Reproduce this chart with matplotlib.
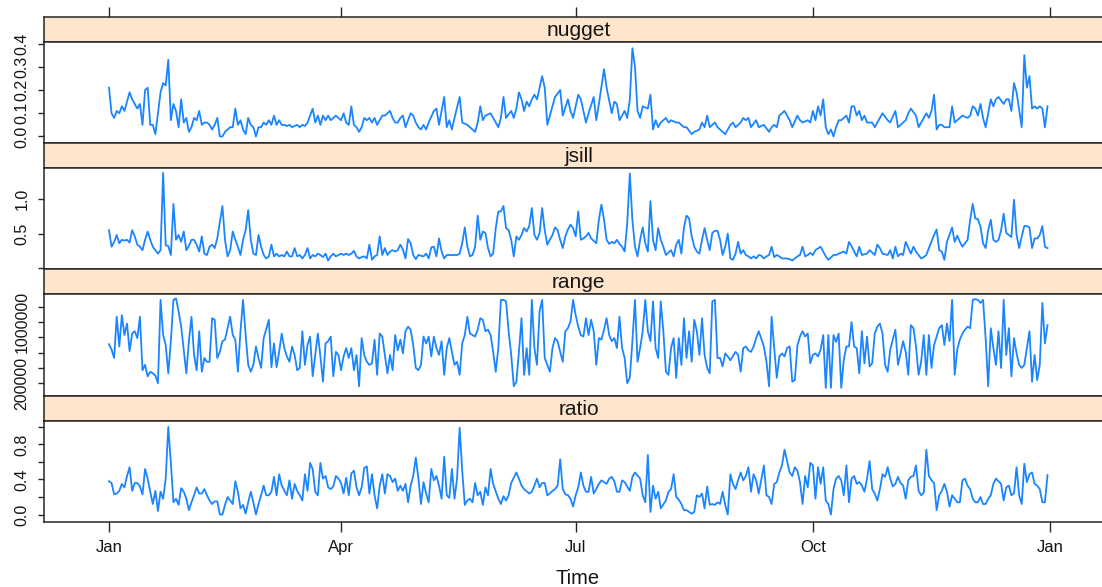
#!/usr/bin/env python3
"""
Variogram parameters by day - lattice-style stacked panels
"""

import matplotlib

matplotlib.use("Agg")
import matplotlib.dates as mdates
import matplotlib.pyplot as plt
import numpy as np
import pandas as pd

plt.rcParams["font.family"] = ["Liberation Sans", "DejaVu Sans"]

start = pd.Timestamp("2009-01-01")

# --- nugget ---------------------------------------------------------------
nugget_day = [
    0, 1, 2, 3, 4, 5, 6, 7, 8, 9, 10, 11, 12, 13, 14, 15, 16, 17, 18, 20,
    21, 22, 23, 24, 25, 26, 27, 28, 29, 30, 31, 32, 33, 34, 35, 36, 37, 38, 39, 40,
    41, 42, 43, 44, 45, 47, 48, 49, 50, 51, 52, 53, 54, 55, 56, 57, 58, 59, 60, 61,
    62, 63, 64, 65, 66, 67, 68, 69, 70, 71, 72, 73, 74, 75, 76, 77, 79, 80, 81, 82,
    83, 84, 85, 86, 88, 89, 90, 91, 92, 93, 94, 95, 96, 97, 98, 99, 100, 101, 102, 103,
    104, 105, 106, 107, 109, 110, 111, 112, 113, 114, 115, 116, 117, 118, 119, 120,
    121, 122, 123, 124, 126, 127, 128, 130, 131, 132, 133, 134, 136, 137, 139, 140,
    142, 143, 144, 145, 146, 148, 149, 151, 152, 153, 154, 156, 157, 158, 159, 160,
    161, 162, 163, 164, 165, 166, 168, 169, 170, 172, 173, 175, 176, 178, 179, 180,
    181, 182, 183, 185, 186, 188, 189, 190, 192, 193, 195, 196, 197, 198, 200, 201,
    202, 203, 204, 205, 206, 207, 209, 210, 211, 212, 213, 214, 216, 217, 218, 220,
    221, 223, 224, 226, 227, 229, 230, 231, 232, 233, 234, 235, 236, 238, 239, 241,
    242, 243, 245, 246, 247, 248, 249, 251, 252,
    254, 256, 257, 258, 259, 260, 262, 263, 264, 265, 267, 268, 269, 271, 272, 273,
    274, 275, 276, 277, 278, 279, 280, 281, 282, 283, 284, 286, 287, 288, 289, 290,
    291, 292, 293, 294, 296, 297, 298, 300, 302, 303, 305, 306, 307, 309, 310, 311,
    313, 314, 315, 317, 318, 319, 320, 321, 322, 323, 324, 326, 327, 328, 330, 331,
    333, 334, 335, 336, 337, 338, 339, 340, 342, 343, 344, 345, 347, 348, 349, 350,
    351, 352, 354, 355, 356, 357, 358, 359, 360, 361, 362, 363, 364,
]
nugget_val = [
    .21, .10, .08, .11, .10, .13, .11, .15, .19, .16, .14, .12, .14, .05, .20, .21, .05, .05, .01, .19,
    .23, .22, .33, .07, .14, .11, .04, .16, .06, .08, .02, .04, .08, .07, .11, .05, .06, .06, .05, .03,
    .05, .08, .00, .00, .02, .04, .04, .12, .05, .07, .03, .01, .08, .05, .04, .00, .04, .04, .06, .05,
    .07, .05, .09, .05, .07, .05, .05, .045, .05, .04, .045, .05, .04, .05, .045, .06, .12, .06, .09, .05,
    .09, .07, .09, .07, .09, .08, .07, .10, .06, .05, .13, .05, .04, .02, .04, .08, .07, .08, .06, .08,
    .05, .07, .09, .09, .11, .08, .06, .06, .08, .09, .04, .07, .10, .09, .06, .04,
    .03, .05, .03, .06, .11, .12, .05, .17, .04, .07, .03, .08, .17, .06, .05, .04,
    .02, .06, .13, .07, .09, .10, .08, .04, .08, .17, .08, .11, .08, .12, .19, .16,
    .11, .15, .13, .16, .18, .16, .26, .21, .05, .13, .17, .20, .09, .16, .11, .08,
    .13, .18, .16, .06, .10, .17, .07, .14, .29, .21, .10, .15, .14, .07, .11, .08,
    .16, .38, .30, .11, .08, .13, .12, .18, .03, .07, .04, .06, .08, .06, .07, .06,
    .06, .04, .04, .01, .02, .03, .06, .04, .09, .04, .05, .06, .04, .02, .01, .05,
    .06, .04, .06, .08, .07, .08, .04, .07, .04,
    .05, .02, .04, .05, .04, .09, .11, .09, .07, .04, .09, .07, .06, .07, .06, .11,
    .07, .13, .09, .16, .04, .01, .03, .00, .04, .07, .07, .09, .06, .13, .13, .09,
    .11, .07, .09, .06, .06, .04, .06, .10, .07, .06, .11, .04, .05, .07, .10, .12,
    .09, .04, .06, .10, .08, .11, .18, .03, .05, .05, .04, .04, .13, .06, .08, .09,
    .08, .09, .13, .12, .09, .14, .08, .04, .16, .13, .16, .17, .14, .16, .16, .11,
    .23, .19, .04, .35, .21, .26, .12, .13, .12, .13, .12, .04, .13,
]

# --- jsill ----------------------------------------------------------------
jsill_day = np.r_[0:121, 122:132, 133, 135:188, 189:217, 218:253,
                  253:262, 263:266, 267:275, 276:280, 281:284, 285:293,
                  294:296, 297:301, 302:310, 311:314, 315:319, 320:326,
                  327:332, 333:365]
jsill_val = [
    .55, .31, .38, .48, .36, .41, .40, .41, .37, .55, .46, .34, .31, .26, .41, .53, .41, .31, .26, .21,
    .26, 1.38, .33, .32, .19, .93, .41, .48, .38, .53, .26, .32, .41, .41, .34, .24, .46, .21, .19, .31,
    .34, .29, .43, .67, .90, .41, .17, .26, .53, .41, .31, .19, .41, .55, .84, .41, .21, .19, .48, .31,
    .19, .14, .17, .34, .17, .21, .17, .19, .17, .24, .17, .17, .29, .17, .19, .14, .19, .29, .14, .19,
    .17, .21, .19, .16, .21, .11, .17, .21, .17, .19, .21, .19, .21, .19, .21, .25, .17, .14, .16, .17,
    .14, .34, .12, .17, .19, .46, .19, .29, .19, .24, .26, .24, .26, .34, .27, .14, .42, .36, .19, .13,
    .19,
    .17, .21, .14, .30, .31, .17, .43, .24, .14, .19, .19, .19, .21, .36, .59, .31, .17, .19, .31, .76,
    .41, .53, .51, .29, .17, .21, .58, .82, .82, .90, .58, .55, .41, .17, .46, .41, .48, .58, .53, .61,
    .87, .48, .41, .51, .87, .55, .34, .41, .48, .59, .55, .41, .29, .46, .56, .63, .58, .46, .82, .41,
    .43, .46, .51, .43, .36, .70, .92, .70, .41, .35, .38, .36, .41, .35, .31, .24, .65, 1.37, .70, .31,
    .17, .41, .59, .36, .24, .97, .41, .26, .58, .41, .31, .19, .26, .17, .34, .41, .21, .59, .76, .72,
    .46, .31, .24, .21, .41, .58, .41, .26, .51, .54, .54, .41, .19, .31, .50, .14, .12, .21, .38, .21,
    .26, .19, .17, .14, .17, .14, .19,
    .18, .14, .17, .19, .31, .16, .19, .17, .14, .14, .13, .11, .17, .19, .31, .17, .19, .22, .19, .26,
    .31, .24, .17, .12, .19, .19, .21, .24, .21, .38, .32, .24, .17, .31, .19, .21, .26, .19, .34, .29,
    .21, .19, .26, .14, .31, .17, .21, .19, .38, .21, .31, .24, .14, .16, .19, .29, .48, .56, .26, .24,
    .12, .38, .59, .38, .47, .38, .31, .41, .70, .93, .72, .71, .60, .36, .29, .55, .70, .41, .38, .41,
    .55, .79, .51, .48, .45, .99, .48, .29, .46, .61, .61, .59, .29, .43, .43, .48, .61, .31, .29,
]

# --- range ----------------------------------------------------------------
range_day = np.r_[0:29, 30:46, 47:61, 62:107, 108:242, 243:253, 254:356, 357:365]
range_val_m = [
    .71, .64, .53, 1.07, .68, 1.09, .83, .98, .62, .85, .88, .79, 1.07, .37, .44, .29, .35, .33, .30, .20,
    1.29, .83, .70, .33, .75, 1.29, 1.31, 1.14, .94,
    .33, .75, 1.07, .57, .37, .88, .35, .53, .48, .48, 1.05, 1.03, .53, .61, .75, .77,
    1.07, .83, .77, .35, .88, 1.29, .83, .44, .35, .44, .68, .53, .40, .79,
    1.03, .41, .72, .41, .61, .85, .66, .55, .48, .68, .57, .37, .40, .88, .44, .70, .81, .29, .57, .85,
    .55, .22, .72, .75, .81, .29, .61, .57, .37, .55, .66, .53, .66, .37, .57, .16, .79, .57, .48, .44,
    .46, .77, .31, .85, .81,
    .33, .57, .37, .83, .63, .77, .59, .88, .94, .90, .70, .40, .37,
    .44, .81, .72, .81, .55, .81, .66, .57, .75, .31, .66, .79, .61, .44, .48, .31, .72, .83, 1.07, .85,
    .83, .81, .90, 1.05, 1.03, .88, .90, .83, .61, .35, .66, 1.29, 1.29, 1.27, .88, .57, .16, .22, .61, 1.05,
    .31, .66, .31, 1.29, .66, .44, 1.14, 1.29, .53, .44, .35, .66, .79, .75, .61, .48, .88, .92, 1.01, 1.29,
    1.09, .94, .83, .81, 1.05, .83, 1.03, .88, .44, .79, .77, .90, 1.05, .83, .75, .79, .66, 1.07, .66, .53,
    .20, .27, .75, 1.29, .48, .66, .88, 1.29, .88, .75, 1.27, .66, .53, 1.27, .88, .35, .31, .66, .79, .27,
    .79, .44, 1.05, .53, .88, .48, 1.03, .88, .57, 1.05, .57, .40, .33, 1.27, 1.29, .53, .53, .42, .59, .55,
    .50,
    .61, .57, .35, .66, .68, .63, .61, .68, .79, .88,
    .68, .48, .16, 1.07, .66, .27, .55, .59, .55, .66, .68, .22, .24, .69, .81, .88, .81, .85, .46, .57,
    .59, .55, .64, .83, .14, .83, .14, .83, .74, .85, .14, .51, .68, .68, 1.00, .68, .66, .33, .88, .46,
    .81, .42, .46, .85, .94, .98, .85, .44, .35, .64, .77, .90, .44, .59, .75, .61, .31, .96, .92, .68,
    .31, .48, .83, .31, .83, .40, .70, .81, .92, .96, .70, .98, .75, 1.29, .31, .64, .77, .85, .90, .94,
    .92, 1.29, 1.30, 1.29, 1.25, 1.29, .79, .16, .92, .66, .44, .88, .40, 1.29, .57, .92, .29, .79, .59, .44,
    .40, .44,
    .88, .22, .57, .24, .44, 1.25, .72, .96,
]
range_val = [v * 1e6 for v in range_val_m]

# --- ratio ----------------------------------------------------------------
ratio_day = np.r_[0:47, 48:68, 69:150, 151:157, 158:162, 163:192, 193:201,
                  202:205, 206:215, 216:225, 226:253, 254:345, 346:365]
ratio_val = [
    .38, .36, .23, .24, .27, .35, .31, .44, .54, .27, .36, .36, .32, .23, .52, .41, .26, .12, .27, .04,
    .26, .18, .41, 1.0, .59, .14, .18, .11, .30, .26, .18, .05, .14, .22, .31, .24, .24, .29, .22, .16,
    .12, .15, .15, .00, .00, .11, .20,
    .12, .38, .26, .07, .11, .01, .14, .26, .14, .00, .12, .22, .33, .22, .22, .26, .43, .22, .46, .33,
    .22, .39, .18, .35, .27, .22, .16, .46, .27, .59, .52, .26, .22, .59, .41, .44, .31, .29, .32, .44,
    .41, .36, .24, .42, .22, .47, .50, .31, .22, .31, .53, .55, .24, .46, .22, .07, .33, .46, .24, .46,
    .44, .37, .41, .27, .33, .27, .35, .14, .33, .44, .65,
    .41, .12, .37, .24, .14, .52, .39, .44, .33, .18, .66, .22, .19, .52, .18, .41, .99, .50, .11, .16,
    .18, .14, .36, .22, .26, .11, .31, .22, .52, .35,
    .18, .12, .21, .16, .22, .36,
    .48, .41, .33, .29,
    .24, .26, .33, .41, .31, .36, .36, .22, .24, .27, .29, .33, .63, .29, .23, .22, .18, .09, .22, .31,
    .48, .33, .26, .26, .43, .24, .29, .35, .39,
    .35, .41, .43, .38, .26, .26, .39, .37,
    .27, .43, .48,
    .41, .22, .14, .68, .03, .33, .18, .26, .07,
    .16, .26, .29, .46, .20, .17, .12, .05, .05,
    .01, .03, .22, .20, .24, .07, .32, .11, .12, .11, .14, .12, .26, .11, .00, .46, .35, .29, .39, .48,
    .39, .44, .54, .26, .46, .39, .24,
    .56, .22, .20, .12, .35, .37, .48, .56, .74, .61, .48, .44, .54, .50, .37, .12, .44, .31, .59, .56,
    .18, .54, .35, .54, .16, .12, .00, .29, .41, .44, .39, .22, .56, .14, .41, .44, .35, .37, .33, .26,
    .41, .61, .29, .24, .16, .29, .46, .43, .54, .41, .32, .35, .43, .36, .33, .18, .39, .43, .44, .56,
    .27, .22, .25, .74, .44, .39, .36, .05, .22, .27, .35, .26, .09, .22, .18, .14, .14, .39, .41, .33,
    .29, .18, .14, .14, .20, .12, .12, .18, .22, .35, .41,
    .35, .16, .31, .33, .22, .24, .54, .22, .12, .58, .37, .46, .48, .35, .33, .29, .14, .14, .45,
]

panel_names = ["nugget", "jsill", "range", "ratio"]
panel_days = [nugget_day, jsill_day, range_day, ratio_day]
panel_vals = [nugget_val, jsill_val, range_val, ratio_val]
panel_ylims = [(-0.028, 0.408), (-0.017, 1.45), (38000, 1363000), (-0.084, 1.072)]
panel_yticks = [
    [0.0, 0.1, 0.2, 0.3, 0.4],
    [0.0, 0.5, 1.0],
    [200000, 400000, 600000, 800000, 1000000, 1200000],
    [0.0, 0.2, 0.4, 0.6, 0.8, 1.0],
]
panel_ylabels = [
    ["0.0", "0.1", "0.2", "0.3", "0.4"],
    ["", "0.5", "1.0"],
    ["200000", "", "", "", "1000000", ""],
    ["0.0", "", "0.4", "", "0.8", ""],
]

W, H = 1102, 587
fig = plt.figure(figsize=(W / 100, H / 100), dpi=100)


def px_axes(x0, top, w, h):
    return fig.add_axes([x0 / W, 1 - (top + h) / H, w / W, h / H])


x_left, x_width = 44, 1069
strip_h, panel_h = 25, 101.3
top0, pitch = 16.7, 126.3
xlim = (
    mdates.date2num(start - pd.Timedelta(days=25.2)),
    mdates.date2num(start + pd.Timedelta(days=389.4)),
)
line_color = "#1a85ff"
edge_color = "#262626"
text_color = "#151515"

for i, name in enumerate(panel_names):
    top = top0 + i * pitch

    # strip
    sax = px_axes(x_left, top, x_width, strip_h)
    sax.set_facecolor("#ffe5cc")
    sax.set_xlim(xlim)
    sax.set_ylim(0, 1)
    sax.set_yticks([])
    for sp in sax.spines.values():
        sp.set_color(edge_color)
        sp.set_linewidth(1.1)
    sax.text(0.5, 0.46, name, transform=sax.transAxes, ha="center", va="center",
             fontsize=15, color=text_color)
    if i == 0:
        sax.xaxis.set_ticks_position("top")
        sax.xaxis.set_major_locator(mdates.MonthLocator(bymonth=[1, 4, 7, 10]))
        sax.tick_params(axis="x", direction="out", length=7.2, width=1.0,
                        color=edge_color, labeltop=False, labelbottom=False)
    else:
        sax.set_xticks([])

    # panel
    ax = px_axes(x_left, top + strip_h, x_width, panel_h)
    dates = start + pd.to_timedelta(np.asarray(panel_days[i]), unit="D")
    ax.plot(dates, panel_vals[i], color=line_color, lw=1.3)
    ax.set_xlim(xlim)
    ax.set_ylim(panel_ylims[i])
    for sp in ax.spines.values():
        sp.set_color(edge_color)
        sp.set_linewidth(1.1)
    ax.set_yticks(panel_yticks[i], panel_ylabels[i])
    ax.tick_params(axis="y", direction="out", length=4, width=1.0, color=edge_color,
                   labelsize=11.5, labelrotation=90, pad=6.5, labelcolor=text_color)
    for lab in ax.get_yticklabels():
        lab.set_va("center")

    if i == len(panel_names) - 1:
        ax.xaxis.set_major_locator(mdates.MonthLocator(bymonth=[1, 4, 7, 10]))
        ax.xaxis.set_major_formatter(mdates.DateFormatter("%b"))
        ax.tick_params(axis="x", direction="out", length=7.2, width=1.0, color=edge_color,
                       labelsize=12, pad=6, labelcolor=text_color)
    else:
        ax.set_xticks([])

fig.text(578 / W, 1 - 578 / H, "Time", ha="center", va="center", fontsize=14.5, color=text_color)

plt.savefig("out.png", dpi=100)
